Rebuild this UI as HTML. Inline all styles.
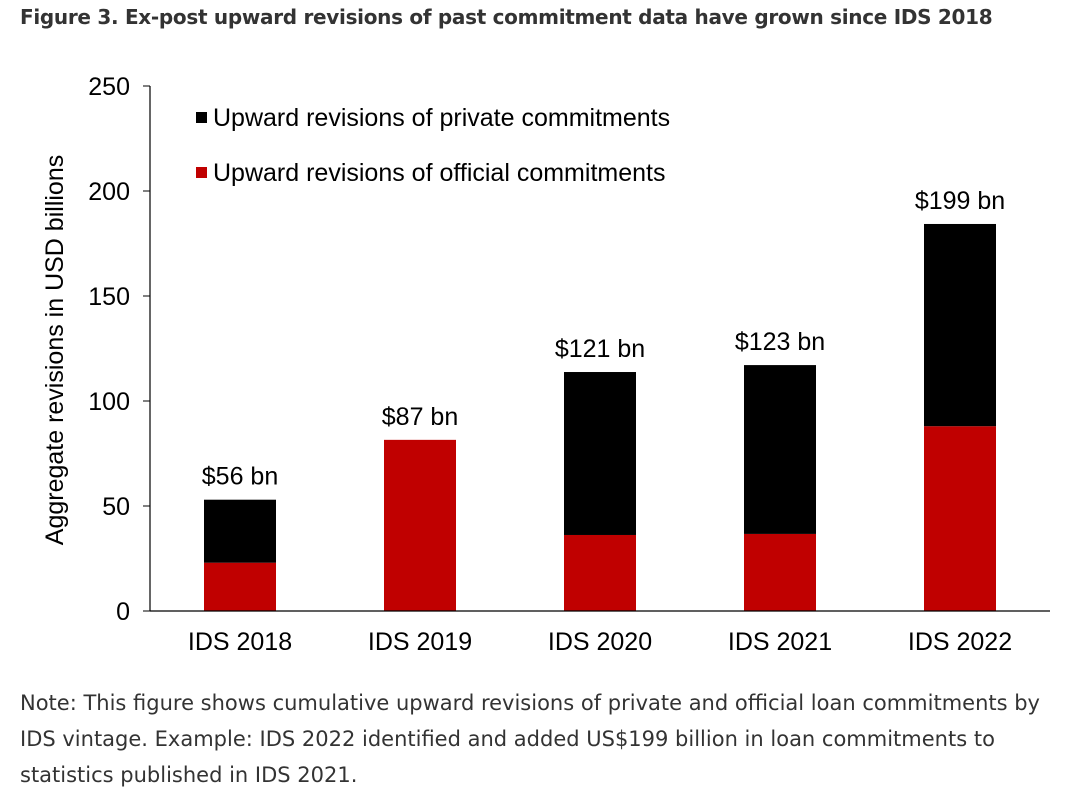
<!DOCTYPE html>
<html><head><meta charset="utf-8">
<style>
body{margin:0;background:#fff;width:1074px;height:802px;overflow:hidden;font-family:"Liberation Sans",Arial,sans-serif;}
#title{position:absolute;left:20px;top:5px;font-size:20px;font-weight:bold;color:#333;font-family:"DejaVu Sans","Liberation Sans",sans-serif;letter-spacing:-0.3px;}
#note{position:absolute;left:20px;top:685px;width:1040px;font-size:21px;line-height:36px;color:#333;font-family:"DejaVu Sans","Liberation Sans",sans-serif;letter-spacing:0px;}
svg{position:absolute;left:0;top:0;}
</style></head><body>
<div id="title">Figure 3. Ex-post upward revisions of past commitment data have grown since IDS 2018</div>
<svg id="chart" width="1074" height="680"></svg>
<div id="note">Note: This figure shows cumulative upward revisions of private and official loan commitments by IDS vintage. Example: IDS 2022 identified and added US$199 billion in loan commitments to statistics published in IDS 2021.</div>
<script>
const categories=["IDS 2018","IDS 2019","IDS 2020","IDS 2021","IDS 2022"];
const officialValues=[23,81.5,36.2,36.7,88];
const privateValues=[30,0,77.6,80.4,96.3];
const totalLabels=["$56 bn","$87 bn","$121 bn","$123 bn","$199 bn"];
const yTicks=[0,50,100,150,200,250];
const NS="http://www.w3.org/2000/svg";
const svg=document.getElementById('chart');
const L=150,R=1050,T=86,B=611,yMax=250;
const y=v=>B-(v/yMax)*(B-T);
const band=(R-L)/categories.length;
const xc=i=>L+band*(i+0.5);
const bw=72;
const FS=25;
function mk(tag,attrs,parent){const e=document.createElementNS(NS,tag);for(const k in attrs)e.setAttribute(k,attrs[k]);(parent||svg).appendChild(e);return e;}
categories.forEach((c,i)=>{
  const o=officialValues[i],p=privateValues[i];
  const r=mk('rect',{x:xc(i)-bw/2,y:y(o),width:bw,height:y(0)-y(o),fill:'#c00000'});
  
  
  if(p>0){const b=mk('rect',{x:xc(i)-bw/2,y:y(o+p),width:bw,height:y(o)-y(o+p),fill:'#000'});
  
  }
  const t=mk('text',{x:xc(i),y:y(o+p)-15,'text-anchor':'middle','font-size':FS,fill:'#000'});
  t.textContent=totalLabels[i];
  
  
  const xl=mk('text',{x:xc(i),y:B+39,'text-anchor':'middle','font-size':FS,fill:'#000'});
  xl.textContent=c;
  
  
});
yTicks.forEach(v=>{
  const tk=mk('line',{x1:L-7,x2:L,y1:y(v),y2:y(v),stroke:'#000','stroke-width':1});
  
  
  const tl=mk('text',{x:L-20,y:y(v)+9,'text-anchor':'end','font-size':FS,fill:'#000'});
  tl.textContent=v;
  
  
});
const ya=mk('line',{x1:L,x2:L,y1:T,y2:B,stroke:'#000','stroke-width':1.2});


const xa=mk('line',{x1:L,x2:R,y1:B,y2:B,stroke:'#000','stroke-width':1.2});


const yt=mk('text',{x:0,y:0,transform:'translate(63,350) rotate(-90)','text-anchor':'middle','font-size':FS,fill:'#000'});
yt.textContent='Aggregate revisions in USD billions';


[['#000','Upward revisions of private commitments',117],['#c00000','Upward revisions of official commitments',172]].forEach(([col,txt,yy])=>{
  const g=mk('g',{});
  
  
  mk('rect',{x:196,y:yy-5,width:11,height:11,fill:col},g);
  const t=mk('text',{x:213,y:yy+9,'font-size':FS,fill:'#000'},g);
  t.textContent=txt;
});
</script>
</body></html>
